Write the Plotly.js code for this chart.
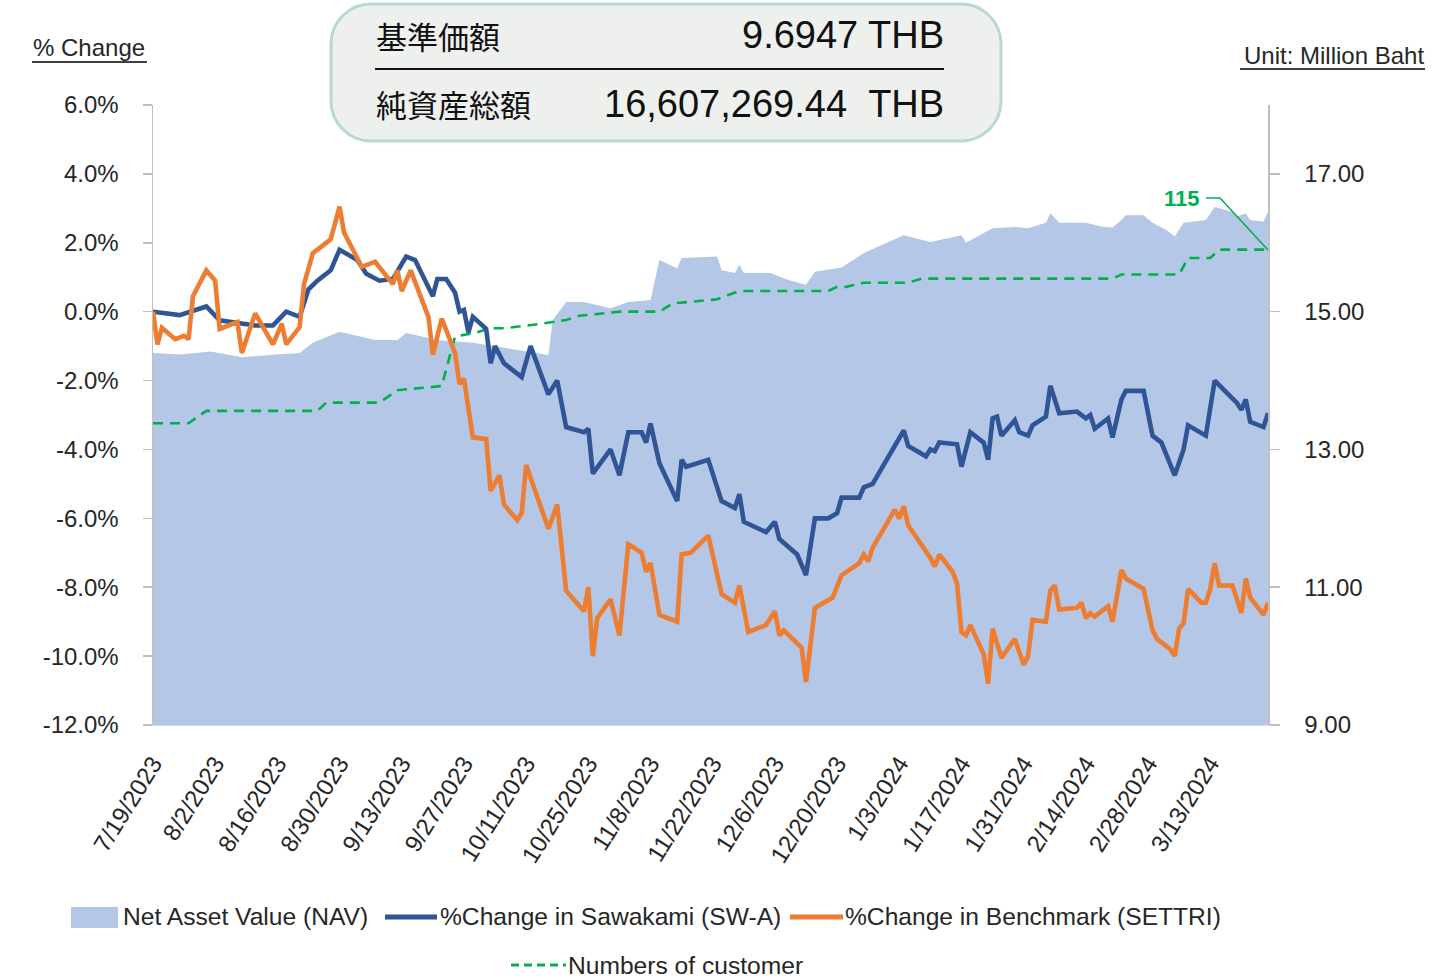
<!DOCTYPE html>
<html>
<head>
<meta charset="utf-8">
<script src="https://cdn.plot.ly/plotly-3.0.1.min.js"></script>
<style>
  html, body { margin: 0; padding: 0; background: #ffffff; }
  #chart { width: 1443px; height: 980px; }
</style>
</head>
<body>
<div id="chart"></div>
<script>
// ---------------- DATA ----------------
const tickDates = ["2023-07-19","2023-08-02","2023-08-16","2023-08-30","2023-09-13","2023-09-27","2023-10-11","2023-10-25","2023-11-08","2023-11-22","2023-12-06","2023-12-20","2024-01-03","2024-01-17","2024-01-31","2024-02-14","2024-02-28","2024-03-13"];
const pctTickVals = [-12, -10, -8, -6, -4, -2, 0, 2, 4, 6];
const pctTickText = ["-12.0%", "-10.0%", "-8.0%", "-6.0%", "-4.0%", "-2.0%", "0.0%", "2.0%", "4.0%", "6.0%"];
const navTickVals = [9, 11, 13, 15, 17];
const navTickText = ["9.00", "11.00", "13.00", "15.00", "17.00"];

// Net Asset Value (Million Baht)
const navDates = ["2023-07-19","2023-07-25","2023-08-01","2023-08-08","2023-08-14","2023-08-21","2023-08-24","2023-08-30","2023-09-07","2023-09-12","2023-09-14","2023-09-21","2023-09-29","2023-10-09","2023-10-16","2023-10-17","2023-10-20","2023-10-24","2023-10-30","2023-11-03","2023-11-08","2023-11-10","2023-11-14","2023-11-15","2023-11-23","2023-11-24","2023-11-27","2023-11-28","2023-11-29","2023-12-05","2023-12-09","2023-12-13","2023-12-15","2023-12-21","2023-12-26","2024-01-04","2024-01-10","2024-01-17","2024-01-18","2024-01-24","2024-01-29","2024-02-01","2024-02-05","2024-02-06","2024-02-08","2024-02-14","2024-02-18","2024-02-20","2024-02-22","2024-02-23","2024-02-27","2024-02-29","2024-03-03","2024-03-05","2024-03-07","2024-03-12","2024-03-14","2024-03-18","2024-03-19","2024-03-21","2024-03-22","2024-03-25","2024-03-26"];
const navValues = [14.40,14.38,14.42,14.34,14.37,14.40,14.55,14.71,14.59,14.59,14.69,14.59,14.55,14.45,14.37,14.88,15.14,15.14,15.05,15.14,15.17,15.75,15.63,15.78,15.80,15.60,15.56,15.68,15.56,15.56,15.46,15.39,15.58,15.64,15.85,16.11,16.01,16.11,16.00,16.21,16.23,16.21,16.29,16.43,16.29,16.29,16.23,16.22,16.33,16.40,16.40,16.29,16.19,16.09,16.29,16.33,16.52,16.45,16.38,16.43,16.33,16.31,16.45];

// %Change in Sawakami (SW-A)
const swDates = ["2023-07-19","2023-07-25","2023-07-31","2023-08-03","2023-08-11","2023-08-15","2023-08-18","2023-08-21","2023-08-23","2023-08-25","2023-08-28","2023-08-30","2023-09-03","2023-09-05","2023-09-08","2023-09-11","2023-09-14","2023-09-16","2023-09-20","2023-09-21","2023-09-23","2023-09-25","2023-09-26","2023-09-27","2023-09-28","2023-09-29","2023-10-02","2023-10-03","2023-10-04","2023-10-06","2023-10-09","2023-10-10","2023-10-12","2023-10-16","2023-10-18","2023-10-20","2023-10-24","2023-10-25","2023-10-26","2023-10-30","2023-11-01","2023-11-03","2023-11-06","2023-11-07","2023-11-08","2023-11-10","2023-11-14","2023-11-15","2023-11-16","2023-11-21","2023-11-24","2023-11-27","2023-11-28","2023-11-29","2023-12-04","2023-12-06","2023-12-07","2023-12-11","2023-12-13","2023-12-15","2023-12-18","2023-12-20","2023-12-21","2023-12-25","2023-12-26","2023-12-28","2024-01-04","2024-01-05","2024-01-09","2024-01-10","2024-01-11","2024-01-12","2024-01-16","2024-01-17","2024-01-19","2024-01-22","2024-01-23","2024-01-24","2024-01-25","2024-01-26","2024-01-29","2024-01-30","2024-02-01","2024-02-02","2024-02-05","2024-02-06","2024-02-08","2024-02-12","2024-02-14","2024-02-15","2024-02-16","2024-02-19","2024-02-20","2024-02-22","2024-02-23","2024-02-27","2024-02-29","2024-03-02","2024-03-05","2024-03-07","2024-03-08","2024-03-12","2024-03-14","2024-03-19","2024-03-20","2024-03-21","2024-03-22","2024-03-25","2024-03-26"];
const swChange = [0.0,-0.1,0.15,-0.25,-0.4,-0.4,0.0,-0.15,0.65,0.9,1.2,1.8,1.5,1.1,0.9,0.95,1.6,1.5,0.45,0.95,0.95,0.55,0.0,0.05,-0.6,-0.15,-0.5,-1.5,-1.0,-1.5,-1.8,-1.9,-1.0,-2.4,-2.0,-3.35,-3.5,-3.4,-4.7,-4.0,-4.75,-3.5,-3.5,-3.8,-3.25,-4.4,-5.5,-4.3,-4.5,-4.3,-5.5,-5.7,-5.3,-6.1,-6.4,-6.1,-6.6,-7.05,-7.65,-6.0,-6.0,-5.85,-5.4,-5.4,-5.1,-5.0,-3.45,-3.9,-4.2,-4.0,-4.05,-3.8,-3.85,-4.5,-3.5,-3.8,-4.3,-3.1,-3.05,-3.6,-3.15,-3.5,-3.6,-3.3,-3.05,-2.15,-2.95,-2.9,-3.1,-3.0,-3.4,-3.1,-3.65,-2.55,-2.3,-2.3,-3.6,-3.8,-4.75,-4.0,-3.3,-3.6,-2.0,-2.65,-2.85,-2.55,-3.2,-3.35,-2.95];

// %Change in Benchmark (SETTRI)
const benchDates = ["2023-07-19","2023-07-20","2023-07-21","2023-07-24","2023-07-26","2023-07-27","2023-07-28","2023-07-31","2023-08-02","2023-08-03","2023-08-07","2023-08-08","2023-08-11","2023-08-15","2023-08-17","2023-08-18","2023-08-21","2023-08-22","2023-08-24","2023-08-28","2023-08-30","2023-08-31","2023-09-04","2023-09-07","2023-09-11","2023-09-12","2023-09-13","2023-09-15","2023-09-19","2023-09-20","2023-09-22","2023-09-25","2023-09-26","2023-09-27","2023-09-29","2023-10-02","2023-10-03","2023-10-05","2023-10-06","2023-10-09","2023-10-10","2023-10-11","2023-10-16","2023-10-18","2023-10-20","2023-10-24","2023-10-25","2023-10-26","2023-10-27","2023-10-30","2023-11-01","2023-11-03","2023-11-06","2023-11-07","2023-11-08","2023-11-10","2023-11-14","2023-11-15","2023-11-17","2023-11-21","2023-11-24","2023-11-27","2023-11-28","2023-11-30","2023-12-04","2023-12-06","2023-12-07","2023-12-08","2023-12-12","2023-12-13","2023-12-15","2023-12-19","2023-12-21","2023-12-25","2023-12-26","2023-12-27","2023-12-28","2024-01-02","2024-01-03","2024-01-04","2024-01-05","2024-01-10","2024-01-11","2024-01-12","2024-01-15","2024-01-16","2024-01-17","2024-01-18","2024-01-19","2024-01-22","2024-01-23","2024-01-24","2024-01-26","2024-01-29","2024-01-31","2024-02-01","2024-02-02","2024-02-05","2024-02-06","2024-02-07","2024-02-08","2024-02-12","2024-02-13","2024-02-14","2024-02-15","2024-02-16","2024-02-19","2024-02-20","2024-02-22","2024-02-23","2024-02-27","2024-02-29","2024-03-01","2024-03-04","2024-03-05","2024-03-06","2024-03-07","2024-03-08","2024-03-11","2024-03-12","2024-03-13","2024-03-14","2024-03-15","2024-03-18","2024-03-20","2024-03-21","2024-03-22","2024-03-25","2024-03-26"];
const benchChange = [0.0,-0.95,-0.47,-0.8,-0.7,-0.8,0.45,1.2,0.9,-0.5,-0.3,-1.2,-0.05,-0.95,-0.35,-0.95,-0.45,0.8,1.7,2.1,3.05,2.3,1.3,1.45,0.8,1.2,0.6,1.2,-0.15,-1.25,-0.2,-1.2,-2.1,-1.95,-3.65,-3.7,-5.2,-4.75,-5.6,-6.05,-5.85,-4.45,-6.3,-5.6,-8.1,-8.7,-8.0,-10.0,-8.9,-8.35,-9.4,-6.75,-7.0,-7.55,-7.3,-8.8,-9.0,-7.05,-7.0,-6.5,-8.2,-8.45,-7.95,-9.3,-9.1,-8.7,-9.4,-9.25,-9.75,-10.75,-8.6,-8.3,-7.65,-7.3,-7.05,-7.25,-6.85,-5.75,-6.0,-5.65,-6.2,-7.15,-7.4,-7.05,-7.55,-7.9,-9.3,-9.4,-9.1,-9.95,-10.8,-9.2,-10.05,-9.5,-10.25,-10.0,-8.95,-9.0,-8.1,-7.95,-8.65,-8.6,-8.45,-8.9,-8.75,-8.85,-8.55,-9.0,-7.5,-7.75,-8.05,-9.25,-9.5,-9.8,-10.0,-9.2,-9.05,-8.05,-8.45,-8.45,-8.05,-7.3,-7.95,-7.95,-8.75,-7.75,-8.3,-8.8,-8.45];

// Numbers of customer
const custDates = ["2023-07-19","2023-07-27","2023-07-31","2023-08-25","2023-08-27","2023-09-08","2023-09-12","2023-09-22","2023-09-25","2023-09-30","2023-10-03","2023-10-06","2023-10-14","2023-10-20","2023-10-23","2023-11-01","2023-11-10","2023-11-13","2023-11-23","2023-11-28","2023-12-18","2023-12-20","2023-12-22","2023-12-26","2024-01-05","2024-01-08","2024-02-20","2024-02-22","2024-03-06","2024-03-08","2024-03-13","2024-03-15","2024-03-26"];
const custCount = [73,73,76,76,78,78,81,82,94,95,96,96,97,98,99,100,100,102,103,105,105,106,106,107,107,108,108,109,109,113,113,115,115];

const seriesNames = ["Net Asset Value (NAV)", "%Change in Sawakami (SW-A)", "%Change in Benchmark (SETTRI)", "Numbers of customer"];
const navPrice = "9.6947 THB";
const navTotal = "16,607,269.44\u00a0\u00a0THB";
const lastCustomerLabel = "115";

// ---------------- STYLE / LAYOUT ----------------
const C = { nav: "#b4c7e7", sw: "#2f5597", bench: "#ed7d31", cust: "#00b050", text: "#262626", axis: "#bfbfbf" };
const W = 1443, H = 980, M = { l: 153, r: 175, t: 105, b: 255 };
const PW = W - M.l - M.r, PH = H - M.t - M.b;
const fx = x => (x - M.l) / PW;
const fy = y => (M.t + PH - y) / PH;
const FONT = "Liberation Sans, Arial, sans-serif";
const JFONT = "Noto Sans CJK JP, sans-serif";

function rrect(x0, y0, x1, y1, r) {
  const k = 0.5523 * r;
  const P = (x, y) => fx(x).toFixed(5) + "," + fy(y).toFixed(5);
  return "M" + P(x0 + r, y0) + " L" + P(x1 - r, y0) +
    " C" + P(x1 - r + k, y0) + " " + P(x1, y0 + r - k) + " " + P(x1, y0 + r) +
    " L" + P(x1, y1 - r) +
    " C" + P(x1, y1 - r + k) + " " + P(x1 - r + k, y1) + " " + P(x1 - r, y1) +
    " L" + P(x0 + r, y1) +
    " C" + P(x0 + r - k, y1) + " " + P(x0, y1 - r + k) + " " + P(x0, y1 - r) +
    " L" + P(x0, y0 + r) +
    " C" + P(x0, y0 + r - k) + " " + P(x0 + r - k, y0) + " " + P(x0 + r, y0) + " Z";
}

// Draw order follows axis order: y (NAV area) -> y2 (customers) -> y3 (% change lines)
const traces = [
  { x: navDates, y: navValues, yaxis: "y", type: "scatter", mode: "lines", fill: "tozeroy",
    fillcolor: C.nav, line: { width: 0, color: C.nav }, name: seriesNames[0], showlegend: false },
  { x: custDates, y: custCount, yaxis: "y2", type: "scatter", mode: "lines",
    line: { width: 2.6, color: C.cust, dash: "10px,7px" }, name: seriesNames[3], showlegend: false },
  { x: swDates, y: swChange, yaxis: "y3", type: "scatter", mode: "lines",
    line: { width: 4.6, color: C.sw }, name: seriesNames[1], showlegend: false },
  { x: benchDates, y: benchChange, yaxis: "y3", type: "scatter", mode: "lines",
    line: { width: 4.6, color: C.bench }, name: seriesNames[2], showlegend: false }
];

const ann = (text, x, y, xanchor, size, extra) => Object.assign({
  text: text, xref: "paper", yref: "paper", x: fx(x), y: fy(y), xanchor: xanchor, yanchor: "middle",
  showarrow: false, font: { family: FONT, size: size, color: C.text }
}, extra || {});

const annotations = [
  ann("基準価額", 374, 35, "left", 31, { font: { family: JFONT, size: 31, color: "#111" } }),
  ann(navPrice, 946, 35, "right", 38, { font: { family: FONT, size: 38, color: "#111" } }),
  ann("純資産総額", 374, 104, "left", 31, { font: { family: JFONT, size: 31, color: "#111" } }),
  ann(navTotal, 946, 104, "right", 38, { font: { family: FONT, size: 38, color: "#111" } }),
  ann("% Change", 31, 48, "left", 24),
  ann("Unit: Million Baht", 1426, 56, "right", 24),
  ann(lastCustomerLabel, 1182, 198, "center", 22, { font: { family: FONT, size: 22, color: C.cust, weight: "bold" } }),
  ann(seriesNames[0], 121, 917, "left", 24.6),
  ann(seriesNames[1], 438, 917, "left", 24.6),
  ann(seriesNames[2], 843, 917, "left", 24.6),
  ann(seriesNames[3], 566, 965, "left", 24.6)
];

const pl = (x0, y0, x1, y1, color, width, dash) => ({
  type: "line", xref: "paper", yref: "paper", x0: fx(x0), y0: fy(y0), x1: fx(x1), y1: fy(y1),
  line: { color: color, width: width, dash: dash || "solid" }
});

const shapes = [
  { type: "path", xref: "paper", yref: "paper", path: rrect(331, 4, 1001, 141, 40),
    fillcolor: "#eef0ee", line: { color: "#b8d9cf", width: 3 }, layer: "above" },
  pl(375, 69, 944, 69, "#111", 2),
  pl(32, 62, 147, 62, "#404040", 2),
  pl(1240, 69, 1425, 69, "#404040", 2),
  { type: "path", xref: "paper", yref: "paper",
    path: "M" + fx(1206) + "," + fy(198) + " L" + fx(1220) + "," + fy(198) + " L" + fx(1268) + "," + fy(250),
    line: { color: C.cust, width: 1.5 } },
  { type: "rect", xref: "paper", yref: "paper", x0: fx(71), x1: fx(118), y0: fy(928), y1: fy(907),
    fillcolor: C.nav, line: { width: 0 } },
  pl(385, 917, 437, 917, C.sw, 5),
  pl(790, 917, 843, 917, C.bench, 5),
  pl(511, 965, 566, 965, C.cust, 3, "8px,5px")
];

const layout = {
  width: W, height: H,
  margin: M,
  paper_bgcolor: "#ffffff", plot_bgcolor: "#ffffff",
  showlegend: false,
  font: { family: FONT, size: 24, color: C.text },
  xaxis: {
    type: "date", range: ["2023-07-19", "2024-03-26"],
    tickmode: "array", tickvals: tickDates, tickformat: "%-m/%-d/%Y",
    tickangle: -58, tickfont: { family: FONT, size: 24, color: C.text },
    showgrid: false, zeroline: false, showline: true, linecolor: "#d9d9d9", linewidth: 1,
    ticks: "", ticklabelstandoff: 14
  },
  yaxis: {
    side: "right", range: [9, 18], tickmode: "array", tickvals: navTickVals, ticktext: navTickText,
    showgrid: false, zeroline: false, showline: true, linecolor: C.axis, linewidth: 1.5,
    ticks: "outside", ticklen: 10, tickcolor: C.axis, tickwidth: 1.5,
    tickfont: { family: FONT, size: 24, color: C.text }, ticklabelstandoff: 20
  },
  yaxis2: { overlaying: "y", range: [0, 150], visible: false },
  yaxis3: {
    overlaying: "y", side: "left", range: [-12, 6], tickmode: "array", tickvals: pctTickVals, ticktext: pctTickText,
    showgrid: false, zeroline: false, showline: true, linecolor: C.axis, linewidth: 1.5,
    ticks: "outside", ticklen: 9, tickcolor: C.axis, tickwidth: 1.5,
    tickfont: { family: FONT, size: 24, color: C.text }, ticklabelstandoff: 19
  },
  annotations: annotations,
  shapes: shapes
};

Plotly.newPlot("chart", traces, layout, { staticPlot: true, displayModeBar: false });
</script>
</body>
</html>
